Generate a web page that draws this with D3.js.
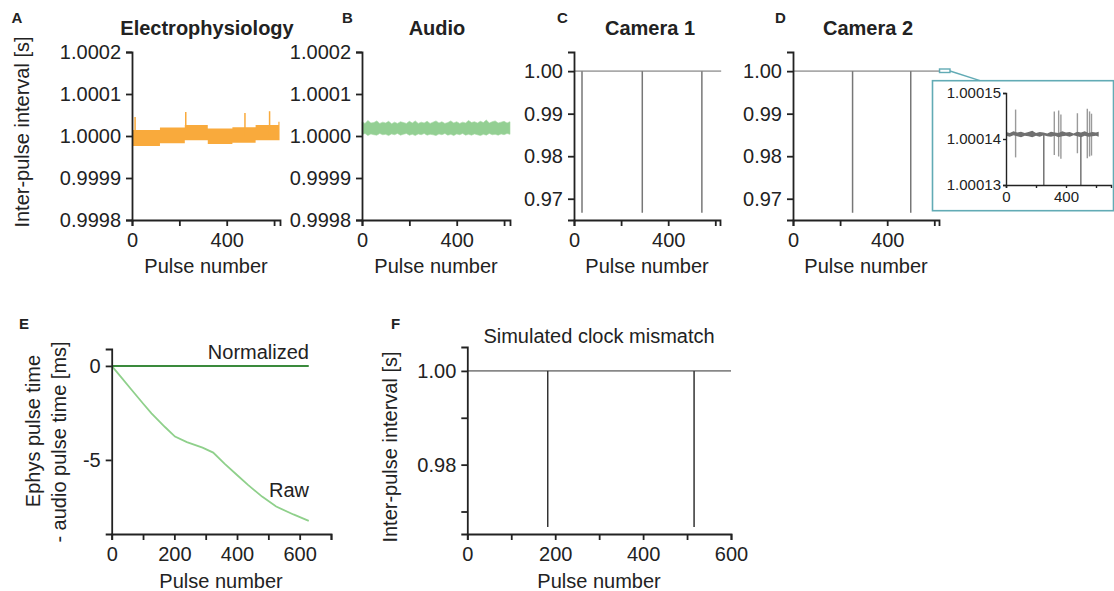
<!DOCTYPE html>
<meta charset="utf-8">
<script src="https://d3js.org/d3.v7.min.js"></script>
<style>
  body { margin: 0; background: #fff; }
  svg text { font-family: "Liberation Sans", Arial, sans-serif; fill: #222; }
  .axis path, .axis line { stroke: #222; stroke-width: 1.8; }
  .axis text { font-size: 20px; }
  .inset path, .inset line { stroke: #222; stroke-width: 1.4; }
  .inset text { font-size: 15px; }
</style>
<div id="chart"></div>
<script>

// ---- data ----

// A: electrophysiology, band made of segments (start pulse, low, high) + spikes
var aSegStart = [0, 118, 223, 320, 424, 522, 618]
var aSegLow   = [0.999976, 0.999983, 0.999990, 0.999981, 0.999984, 0.999990, 0.999990]
var aSegHigh  = [1.000014, 1.000020, 1.000026, 1.000018, 1.000021, 1.000026, 1.000034]
var aEnd = 623
var aSpikePulse = [13, 227, 477, 581]
var aSpikeTop   = [1.000045, 1.000057, 1.000055, 1.000059]

// B: audio, noisy band envelope every 12.5 pulses
var bPulse = d3.range(0, 626, 12.5)
var bHigh = [1.000034, 1.000030, 1.000037, 1.000031, 1.000032, 1.000036, 1.000030, 1.000033, 1.000031, 1.000035,
             1.000029, 1.000033, 1.000030, 1.000034, 1.000032, 1.000030, 1.000035, 1.000031, 1.000036, 1.000030,
             1.000033, 1.000031, 1.000035, 1.000030, 1.000033, 1.000036, 1.000031, 1.000034, 1.000030, 1.000032,
             1.000036, 1.000031, 1.000034, 1.000030, 1.000033, 1.000031, 1.000037, 1.000032, 1.000034, 1.000031,
             1.000035, 1.000032, 1.000038, 1.000031, 1.000034, 1.000036, 1.000031, 1.000033, 1.000035, 1.000031, 1.000034]
var bLow  = [1.000003, 1.000006, 1.000001, 1.000005, 1.000003, 1.000002, 1.000006, 1.000003, 1.000004, 1.000001,
             1.000005, 1.000003, 1.000006, 1.000002, 1.000004, 1.000006, 1.000002, 1.000004, 1.000001, 1.000005,
             1.000003, 1.000006, 1.000002, 1.000004, 1.000003, 1.000001, 1.000005, 1.000003, 1.000006, 1.000002,
             1.000004, 1.000001, 1.000005, 1.000003, 1.000006, 1.000002, 1.000004, 1.000002, 1.000005, 1.000003,
             1.000001, 1.000004, 1.000002, 1.000006, 1.000003, 1.000004, 1.000002, 1.000005, 1.000003, 1.000006, 1.000004]

// C, D: camera intervals (baseline 1.00 with dropped-frame spikes)
var camBase = 1.00
var camEnd = 625
var camSpikeMin = 0.9667
var cSpikes = [34, 290, 543]
var dSpikes = [253, 500]

// D inset: zoom on the baseline
var insPulse = [0, 25, 50, 75, 100, 125, 150, 175, 200, 225, 250, 275, 300, 325, 350, 375, 400, 425, 450, 475, 500, 525, 550, 575, 600, 618]
var insHigh = [1.0001415, 1.0001413, 1.0001417, 1.0001414, 1.0001416, 1.0001413, 1.0001415, 1.0001418, 1.0001413, 1.0001415, 1.0001414, 1.0001412, 1.0001416, 1.0001414, 1.0001413, 1.0001417, 1.0001414, 1.0001415, 1.0001412, 1.0001416, 1.0001414, 1.0001417, 1.0001413, 1.0001415, 1.0001414, 1.0001416]
var insLow  = [1.0001407, 1.0001405, 1.0001408, 1.0001406, 1.0001404, 1.0001407, 1.0001406, 1.0001404, 1.0001407, 1.0001405, 1.0001408, 1.0001406, 1.0001405, 1.0001407, 1.0001404, 1.0001406, 1.0001407, 1.0001405, 1.0001408, 1.0001406, 1.0001404, 1.0001407, 1.0001405, 1.0001406, 1.0001407, 1.0001405]
var insJitPulse = [64, 322, 351, 366, 476, 542, 557, 570]
var insJitHigh  = [1.0001464, 1.0001460, 1.0001462, 1.0001453, 1.0001456, 1.0001466, 1.0001460, 1.0001455]
var insJitLow   = [1.0001360, 1.0001365, 1.0001362, 1.0001357, 1.0001369, 1.0001358, 1.0001362, 1.0001364]
var insDrop = [252, 499]

// E: ephys - audio pulse time drift [ms]
var eRawPulse = [0, 30, 60, 100, 127, 170, 202, 240, 290, 324, 360, 400, 435, 480, 525, 580, 629]
var eRawVal   = [0, -0.6, -1.2, -2.0, -2.52, -3.25, -3.76, -4.05, -4.35, -4.61, -5.2, -5.8, -6.33, -6.95, -7.48, -7.9, -8.24]
var eNormPulse = [0, 629]
var eNormVal   = [0, 0]

// F: simulated clock mismatch
var fBase = 1.00
var fEnd = 600
var fSpikes = [183, 516]
var fSpikeMin = 0.9667

var tickX = [0, 200, 400, 600]
var tickXShown = [0, 400]

// ---- drawing ----
var Svg = d3.select("#chart").append("svg")
  .attr("width", 1114).attr("height", 591)
Svg.append("rect").attr("width", 1114).attr("height", 591).attr("fill", "#fff")

function drawAxes(x, y, xTicks, xShown, yTicks, yFmt) {
  var xa = d3.axisBottom(x).tickValues(xTicks).tickSizeOuter(0).tickSize(6).tickPadding(7)
    .tickFormat(function(d){ return xShown.indexOf(d) >= 0 ? d : "" })
  Svg.append("g").attr("class", "axis")
    .attr("transform", "translate(0," + y.range()[0] + ")").call(xa)
  var ya = d3.axisLeft(y).tickValues(yTicks).tickSizeOuter(0).tickSize(6).tickPadding(5)
    .tickFormat(yFmt)
  Svg.append("g").attr("class", "axis")
    .attr("transform", "translate(" + x.range()[0] + ",0)").call(ya)
}

function text(x, y, s, opts) {
  opts = opts || {}
  return Svg.append("text").attr("x", x).attr("y", y).text(s)
    .attr("font-size", opts.size || 20)
    .attr("font-weight", opts.bold ? "bold" : "normal")
    .attr("text-anchor", opts.anchor || "start")
}

function yTitle(x, y, s) {
  Svg.append("text").attr("transform", "translate(" + x + "," + y + ") rotate(-90)")
    .attr("text-anchor", "middle").attr("font-size", 20).text(s)
}

// ----- A -----
var xA = d3.scaleLinear().domain([0, 625]).range([132, 280])
var yA = d3.scaleLinear().domain([0.9998, 1.0002]).range([220, 52])
var aData = aSegStart.map(function(p, i){ return {p: p, lo: aSegLow[i], hi: aSegHigh[i]} })
aData.push({p: aEnd, lo: aSegLow[aSegLow.length - 1], hi: aSegHigh[aSegHigh.length - 1]})
Svg.append("path").datum(aData)
  .attr("fill", "#f9aa3c")
  .attr("d", d3.area().curve(d3.curveStepAfter)
    .x(function(d){ return xA(d.p) }).y0(function(d){ return yA(d.lo) }).y1(function(d){ return yA(d.hi) }))
Svg.selectAll(".aspike").data(aSpikePulse).enter().append("line")
  .attr("x1", function(d){ return xA(d) }).attr("x2", function(d){ return xA(d) })
  .attr("y1", yA(1.0)).attr("y2", function(d, i){ return yA(aSpikeTop[i]) })
  .attr("stroke", "#f9aa3c").attr("stroke-width", 1.5)
drawAxes(xA, yA, tickX, tickXShown, [0.9998, 0.9999, 1.0, 1.0001, 1.0002], d3.format(".4f"))
yTitle(29, 132, "Inter-pulse interval [s]")
text(206, 273, "Pulse number", {anchor: "middle"})
text(207, 35, "Electrophysiology", {anchor: "middle", bold: true})
text(11.5, 23, "A", {bold: true, size: 15})

// ----- B -----
var xB = d3.scaleLinear().domain([0, 625]).range([362, 510])
var yB = d3.scaleLinear().domain([0.9998, 1.0002]).range([220, 52])
Svg.append("path").datum(bPulse)
  .attr("fill", "#93cf93").attr("stroke", "#a5d8a3").attr("stroke-width", 0.6)
  .attr("d", d3.area()
    .x(function(d){ return xB(d) })
    .y0(function(d, i){ return yB(bLow[i]) })
    .y1(function(d, i){ return yB(bHigh[i]) }))
drawAxes(xB, yB, tickX, tickXShown, [0.9998, 0.9999, 1.0, 1.0001, 1.0002], d3.format(".4f"))
text(436, 273, "Pulse number", {anchor: "middle"})
text(437, 35, "Audio", {anchor: "middle", bold: true})
text(342, 23, "B", {bold: true, size: 15})

// ----- C & D -----
function camPanel(x0, spikes) {
  var x = d3.scaleLinear().domain([0, 620]).range([x0, x0 + 146])
  var y = d3.scaleLinear().domain([0.965, 1.0045]).range([220, 52])
  Svg.append("line").attr("x1", x(0)).attr("x2", x(camEnd))
    .attr("y1", y(camBase)).attr("y2", y(camBase))
    .attr("stroke", "#aaa").attr("stroke-width", 1.6)
  Svg.selectAll(null).data(spikes).enter().append("line")
    .attr("x1", function(d){ return x(d) }).attr("x2", function(d){ return x(d) })
    .attr("y1", y(camBase)).attr("y2", y(camSpikeMin))
    .attr("stroke", "#777").attr("stroke-width", 1.5)
  drawAxes(x, y, tickX, tickXShown, [0.97, 0.98, 0.99, 1.0], d3.format(".2f"))
  text(x0 + 73, 273, "Pulse number", {anchor: "middle"})
  return {x: x, y: y}
}
var C = camPanel(574, cSpikes)
text(650, 35, "Camera 1", {anchor: "middle", bold: true})
text(557, 23, "C", {bold: true, size: 15})

var D = camPanel(793, dSpikes)
text(868, 35, "Camera 2", {anchor: "middle", bold: true})
text(775, 23, "D", {bold: true, size: 15})

// inset of D
var teal = "#62abb5"
Svg.append("rect").attr("x", 939.5).attr("y", 69).attr("width", 10.5).attr("height", 3.5)
  .attr("fill", "none").attr("stroke", teal).attr("stroke-width", 1.4)
Svg.append("line").attr("x1", 950).attr("y1", 71).attr("x2", 980).attr("y2", 80.7)
  .attr("stroke", teal).attr("stroke-width", 1.4)
Svg.append("rect").attr("x", 932.5).attr("y", 80.7).attr("width", 181).attr("height", 130)
  .attr("fill", "none").attr("stroke", teal).attr("stroke-width", 1.6)

var xI = d3.scaleLinear().domain([0, 700]).range([1006, 1111])
var yI = d3.scaleLinear().domain([1.00013, 1.00015]).range([185, 93])
Svg.selectAll(null).data(insJitPulse).enter().append("line")
  .attr("x1", function(d){ return xI(d) }).attr("x2", function(d){ return xI(d) })
  .attr("y1", function(d, i){ return yI(insJitLow[i]) }).attr("y2", function(d, i){ return yI(insJitHigh[i]) })
  .attr("stroke", "#9a9a9a").attr("stroke-width", 1.4)
Svg.selectAll(null).data(insDrop).enter().append("line")
  .attr("x1", function(d){ return xI(d) }).attr("x2", function(d){ return xI(d) })
  .attr("y1", yI(1.000141)).attr("y2", yI(1.00013))
  .attr("stroke", "#6a6a6a").attr("stroke-width", 1.4)
Svg.append("path").datum(insPulse)
  .attr("fill", "#707070")
  .attr("d", d3.area()
    .x(function(d){ return xI(d) })
    .y0(function(d, i){ return yI(insLow[i]) })
    .y1(function(d, i){ return yI(insHigh[i]) }))
var xIa = d3.axisBottom(xI).tickValues(tickX).tickSizeOuter(0).tickSize(3).tickPadding(3)
  .tickFormat(function(d){ return tickXShown.indexOf(d) >= 0 ? d : "" })
Svg.append("g").attr("class", "inset").attr("transform", "translate(0,185)").call(xIa)
var yIa = d3.axisLeft(yI).tickValues([1.00013, 1.00014, 1.00015]).tickSizeOuter(0).tickSize(3).tickPadding(2)
  .tickFormat(d3.format(".5f"))
Svg.append("g").attr("class", "inset").attr("transform", "translate(1006,0)").call(yIa)

// ----- E -----
var xE = d3.scaleLinear().domain([0, 700]).range([111.7, 331])
var yE = d3.scaleLinear().domain([-8.94, 0.9]).range([534, 349])
var lineE = d3.line().x(function(d){ return xE(d[0]) }).y(function(d){ return yE(d[1]) })
Svg.append("path").datum(d3.zip(eRawPulse, eRawVal))
  .attr("fill", "none").attr("stroke", "#8fd08b").attr("stroke-width", 1.8).attr("d", lineE)
Svg.append("path").datum(d3.zip(eNormPulse, eNormVal))
  .attr("fill", "none").attr("stroke", "#3a8a3c").attr("stroke-width", 2).attr("d", lineE)
drawAxes(xE, yE, [0, 100, 200, 300, 400, 500, 600, 700], [0, 200, 400, 600], [-5, 0],
  function(d){ return String(d) })
text(309, 359, "Normalized", {anchor: "end"})
text(309, 497, "Raw", {anchor: "end"})
yTitle(40, 431, "Ephys pulse time")
yTitle(66, 442, "- audio pulse time [ms]")
text(221, 588, "Pulse number", {anchor: "middle"})
text(19, 329, "E", {bold: true, size: 15})

// ----- F -----
var xF = d3.scaleLinear().domain([0, 600]).range([467.3, 731])
var yF = d3.scaleLinear().domain([0.9652, 1.0051]).range([534, 347])
Svg.append("line").attr("x1", xF(0)).attr("x2", xF(fEnd))
  .attr("y1", yF(fBase)).attr("y2", yF(fBase))
  .attr("stroke", "#888").attr("stroke-width", 1.6)
Svg.selectAll(null).data(fSpikes).enter().append("line")
  .attr("x1", function(d){ return xF(d) }).attr("x2", function(d){ return xF(d) })
  .attr("y1", yF(fBase)).attr("y2", yF(fSpikeMin))
  .attr("stroke", "#333").attr("stroke-width", 1.5)
drawAxes(xF, yF, [0, 100, 200, 300, 400, 500, 600], [0, 200, 400, 600], [0.97, 0.98, 0.99, 1.0],
  function(d){ return (Math.abs(d - 1) < 1e-9 || Math.abs(d - 0.98) < 1e-9) ? d.toFixed(2) : "" })
text(599, 343, "Simulated clock mismatch", {anchor: "middle"})
yTitle(397, 447, "Inter-pulse interval [s]")
text(599, 588, "Pulse number", {anchor: "middle"})
text(391, 329, "F", {bold: true, size: 15})

</script>
